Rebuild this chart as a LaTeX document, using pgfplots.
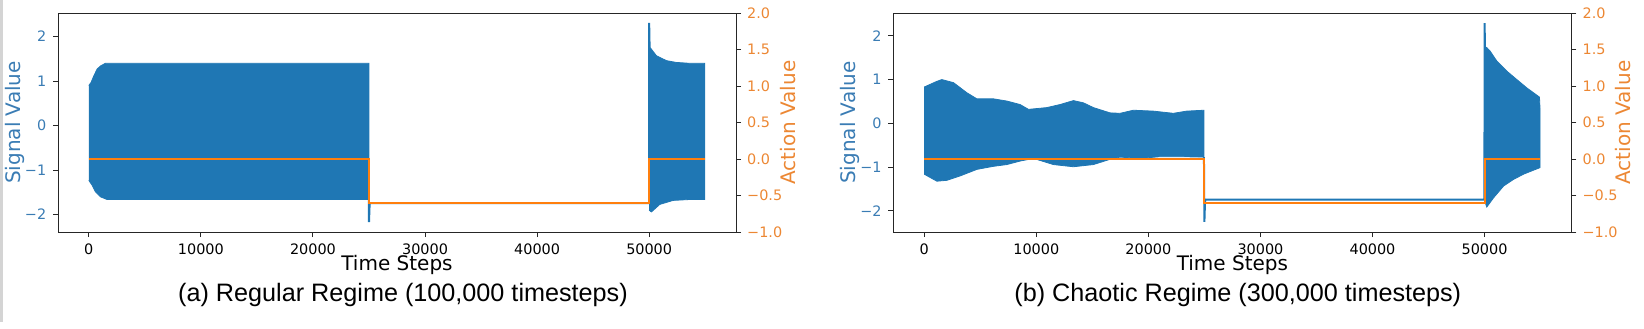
\documentclass[border=0pt]{standalone}
\usepackage{fontspec}
\setmainfont{DejaVu Sans}
\newfontfamily\capfont{Liberation Sans}
\usepackage{pgfplots}
\pgfplotsset{compat=1.18}

\definecolor{tabblue}{HTML}{1F77B4}
\definecolor{taborange}{HTML}{FF7F0E}
\definecolor{bluetext}{HTML}{3A7CB4}
\definecolor{orangetext}{HTML}{EC8733}

% shared look of every panel (1px of the reference = 0.5pt)
\pgfplotsset{
  panel/.style={
    scale only axis, width=339pt, height=109.5pt,
    xmin=-2750, xmax=57750,
    scaled x ticks=false, scaled y ticks=false,
    tick align=outside, major tick length=2.5pt,
    axis line style={black!85, line width=0.5pt},
    every tick/.style={black!85, line width=0.5pt},
    tick label style={font=\fontsize{7.2}{8}\selectfont},
    label style={font=\fontsize{10}{12}\selectfont},
  },
  sig/.style={panel,
    tick pos=left,
    xtick={0,10000,20000,30000,40000,50000},
    xticklabels={0,10000,20000,30000,40000,50000},
    ytick={-2,-1,0,1,2},
    yticklabels={−2,−1,0,1,2},
    xticklabel style={anchor=base, yshift=-8.7pt},
    yticklabel style={anchor=east, inner sep=0pt, xshift=-3.2pt, text=bluetext},
    xlabel={Time Steps},
    xlabel style={at={(axis description cs:0.5,-0.1735)}, anchor=base},
    ylabel={Signal Value},
    ylabel style={at={(axis description cs:-0.0640,0.5)}, anchor=center, text=bluetext},
  },
  act/.style={panel,
    ymin=-1, ymax=2,
    axis x line=none, axis y line*=right, ytick pos=right,
    tick align=outside,
    ytick={-1,-0.5,0,0.5,1,1.5,2},
    yticklabels={−1.0,−0.5,0.0,0.5,1.0,1.5,2.0},
    yticklabel style={anchor=west, inner sep=0pt, xshift=2.9pt, text=orangetext},
    ylabel={Action Value},
    ylabel style={at={(axis description cs:1.076,0.5)}, anchor=center, text=orangetext},
  },
  band/.style={fill=tabblue, draw=tabblue, line width=0.4pt},
  trace/.style={tabblue, line width=1pt},
  step/.style={taborange, line width=1pt},
}

\begin{document}
\begin{tikzpicture}
\useasboundingbox (0,0) rectangle (822pt,164pt);
\fill[black!17] (0,3pt) rectangle (1.5pt,164pt);

% ---------- (a) regular regime ----------
\begin{axis}[sig, at={(29pt,48pt)}, anchor=south west, ymin=-2.39, ymax=2.53]
% oscillation envelope, 0 .. 25000
\addplot[band] coordinates {
  (0,0.90) (200,0.97) (450,1.12) (740,1.27) (1040,1.34) (1480,1.40) (25000,1.40)
  (25000,-1.66) (1630,-1.66) (1040,-1.60) (600,-1.49) (300,-1.34) (0,-1.23)
};
% oscillation envelope, 50000 .. 55000
\addplot[band] coordinates {
  (50000,1.75) (50100,1.75) (50650,1.57) (51540,1.46) (52400,1.42) (53600,1.40) (54950,1.40)
  (54950,-1.66) (53600,-1.66) (52140,-1.68) (50950,-1.77) (50200,-1.94) (50000,-1.90)
};
\addplot[trace] coordinates {
  (24990,-1.66) (25000,-2.17) (25060,-1.74) (49990,-1.74) (50000,2.31) (50040,1.75)
};
\end{axis}
\begin{axis}[act, at={(29pt,48pt)}, anchor=south west]
\addplot[step] coordinates {
  (0,0) (25000,0) (25000,-0.6) (50000,-0.6) (50000,0) (54950,0)
};
\end{axis}

% ---------- (b) chaotic regime ----------
\begin{axis}[sig, at={(446.7pt,48pt)}, anchor=south west, ymin=-2.48, ymax=2.52]
\addplot[band] coordinates {
  (0,0.83) (1130,0.96) (1575,1.00) (2615,0.93) (3800,0.70) (4700,0.56) (6180,0.56)
  (7370,0.51) (8560,0.43) (9300,0.32) (10930,0.36) (12120,0.43) (13310,0.52)
  (14200,0.47) (15100,0.36) (16580,0.24) (17470,0.23) (18660,0.30) (20440,0.28)
  (22230,0.23) (23420,0.28) (24960,0.30)
  (24960,-0.77) (22830,-0.76) (21040,-0.76) (19260,-0.80) (17470,-0.77) (16580,-0.82)
  (15100,-0.94) (13310,-0.99) (11530,-0.94) (9750,-0.80) (8560,-0.86) (7370,-0.94)
  (6180,-0.98) (4700,-1.05) (3200,-1.20) (2020,-1.30) (1130,-1.32) (0,-1.16)
};
\addplot[band] coordinates {
  (50000,1.73) (50200,1.73) (50500,1.65) (51100,1.42) (52000,1.19) (52880,1.00)
  (53770,0.81) (54900,0.60) (54950,0.33)
  (54950,-1.01) (53470,-1.16) (52580,-1.28) (51700,-1.43) (50800,-1.70) (50200,-1.91) (50000,-1.77)
};
\addplot[trace] coordinates {
  (24960,-0.77) (25000,-2.25) (25060,-1.74) (49990,-1.74) (50000,2.29) (50040,1.73)
};
\end{axis}
\begin{axis}[act, at={(446.7pt,48pt)}, anchor=south west]
\addplot[step] coordinates {
  (0,0) (25000,0) (25000,-0.6) (50000,-0.6) (50000,0) (54950,0)
};
\end{axis}

% captions
\node[anchor=base, font=\capfont\fontsize{12.6}{15}\selectfont] at (201.5pt,13.2pt)
  {(a) Regular Regime (100,000 timesteps)};
\node[anchor=base, font=\capfont\fontsize{12.6}{15}\selectfont] at (618.9pt,13.2pt)
  {(b) Chaotic Regime (300,000 timesteps)};
\end{tikzpicture}
\end{document}
